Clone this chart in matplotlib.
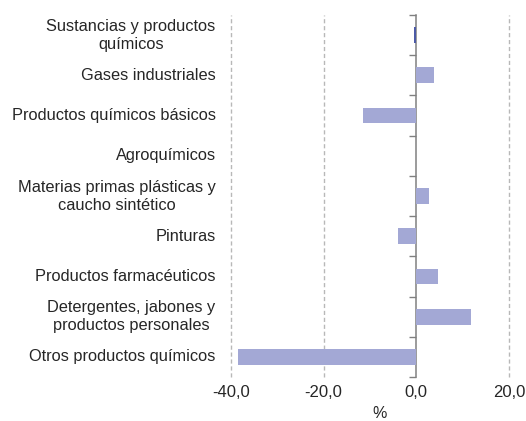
import matplotlib
matplotlib.use("Agg")
import matplotlib.pyplot as plt
import matplotlib.ticker as mticker
import numpy as np

categories = [
    "Sustancias y productos\nquímicos",
    "Gases industriales",
    "Productos químicos básicos",
    "Agroquímicos",
    "Materias primas plásticas y\ncaucho sintético",
    "Pinturas",
    "Productos farmacéuticos",
    "Detergentes, jabones y\nproductos personales",
    "Otros productos químicos",
]
values = [-0.5, 3.9, -11.6, 0.0, 2.8, -3.9, 4.7, 11.7, -38.5]
colors = ["#4c5aa6"] + ["#a3a8d5"] * 8
xticks = [-40, -20, 0, 20]

plt.rcParams["font.family"] = ["Liberation Sans", "DejaVu Sans"]
txt = "#262626"

fig = plt.figure(figsize=(5.26, 4.21), dpi=100)
ax = fig.add_axes([231/526, 1-377/421, (509-231)/526, (377-15)/421])

n = len(categories)
ypos = np.arange(n)
ax.barh(ypos, values, height=0.39, color=colors, linewidth=0, zorder=5)
ax.set_ylim(n-0.5, -0.5)
ax.set_xlim(-40, 20)

for s in ["top", "right", "bottom"]:
    ax.spines[s].set_visible(False)
ax.spines["left"].set_position(("data", 0))
ax.spines["left"].set_color("#808080")
ax.spines["left"].set_linewidth(1.1)
ax.spines["left"].set_zorder(4)

ax.set_yticks(np.arange(n+1)-0.5)
ax.set_yticklabels([])
ax.tick_params(axis="y", length=5, width=1, color="#808080", direction="out")

for y, lab in zip(ypos, categories):
    ax.text(-0.055, y, lab, transform=ax.get_yaxis_transform(), ha="right", va="center",
            multialignment="center", fontsize=11.8, color=txt, linespacing=1.25)

ax.set_xticks(xticks)
ax.xaxis.set_major_formatter(mticker.FuncFormatter(lambda v, p: f"{v:.1f}".replace(".", ",")))
ax.tick_params(axis="x", length=0, labelsize=12, labelcolor=txt, pad=6)
for xv in xticks:
    if xv != 0:
        ax.axvline(xv, color="#b8b8b8", linestyle=(0, (3, 2)), linewidth=1, zorder=1, clip_on=False)

ax.set_xlabel("%", fontsize=11.5, color=txt, labelpad=0)
ax.xaxis.set_label_coords(0.535, -0.08)

fig.savefig("out.png", dpi=100)
